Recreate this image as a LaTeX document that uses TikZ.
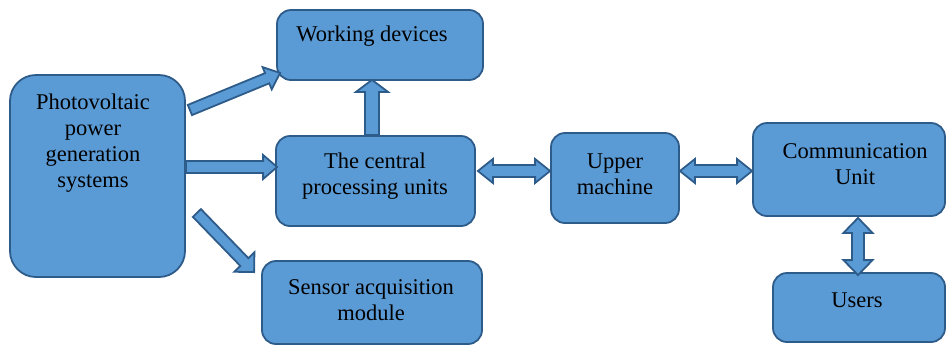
\documentclass[tikz,border=0pt]{standalone}
\usepackage{fontspec}
\setmainfont{Liberation Serif}
\usetikzlibrary{calc}
\definecolor{boxfill}{HTML}{5B9BD5}
\definecolor{boxline}{HTML}{2E5C8A}
\tikzset{
  box/.style={draw=boxline, fill=boxfill, line width=1.8pt, rounded corners=14pt, inner sep=0pt},
  lbl/.style={align=center, font=\fontsize{22.5}{26}\selectfont, inner sep=0pt},
  arr/.style={draw=boxline, fill=boxfill, line width=1.8pt, line join=miter}
}
\newcommand{\blockarrow}[5]{%
  \coordinate (bA) at (#1); \coordinate (bB) at (#2);
  \coordinate (bH) at ($(bB)!#5!(bA)$);
  \draw[arr] ($(bA)!#3!90:(bB)$) -- ($(bH)!#3!-90:(bA)$) -- ($(bH)!#4!-90:(bA)$) -- (bB)
    -- ($(bH)!#4!90:(bA)$) -- ($(bH)!#3!90:(bA)$) -- ($(bA)!#3!-90:(bB)$) -- cycle;}
\newcommand{\dblarrow}[5]{%
  \coordinate (bA) at (#1); \coordinate (bB) at (#2);
  \coordinate (bH1) at ($(bA)!#5!(bB)$); \coordinate (bH2) at ($(bB)!#5!(bA)$);
  \draw[arr] (bA) -- ($(bH1)!#4!90:(bB)$) -- ($(bH1)!#3!90:(bB)$) -- ($(bH2)!#3!-90:(bA)$)
    -- ($(bH2)!#4!-90:(bA)$) -- (bB) -- ($(bH2)!#4!90:(bA)$) -- ($(bH2)!#3!90:(bA)$)
    -- ($(bH1)!#3!-90:(bB)$) -- ($(bH1)!#4!-90:(bB)$) -- cycle;}
\begin{document}
\begin{tikzpicture}[x=1pt, y=-1pt]
\useasboundingbox (0,0) rectangle (947,346);
% boxes
\node[box, rounded corners=26pt, minimum width=175pt, minimum height=202pt] (pv) at (97.5,176) {};
\node[box, minimum width=206pt, minimum height=70pt] (wd) at (380,45) {};
\node[box, minimum width=199pt, minimum height=90pt] (cpu) at (375.5,181) {};
\node[box, minimum width=128pt, minimum height=90pt] (um) at (615,178) {};
\node[box, minimum width=192pt, minimum height=93pt] (cu) at (849,169.5) {};
\node[box, minimum width=220pt, minimum height=83pt] (sa) at (372,302.5) {};
\node[box, minimum width=172pt, minimum height=69pt] (us) at (859,307.5) {};
% labels
\node[lbl] (pvt) at (93,143) {Photovoltaic\\power\\generation\\systems};
\node[lbl] (wdt) at (372,36) {Working devices};
\node[lbl] (cput) at (375,176) {The central\\processing units};
\node[lbl] (umt) at (615,174) {Upper\\machine};
\node[lbl] (cut) at (855,164) {Communication\\Unit};
\node[lbl] (sat) at (371,300) {Sensor acquisition\\module};
\node[lbl] (ust) at (857,300) {Users};
% arrows
\coordinate (a1s) at ($(pv.east)+(4,-66)$);
\coordinate (a1e) at ($(wd.south west)+(4,-8)$);
\blockarrow{a1s}{a1e}{5.5pt}{12pt}{14pt}
\coordinate (a2s) at ($(pv.east)+(0,-9)$);
\coordinate (a2e) at ($(cpu.west)+(2,-14)$);
\blockarrow{a2s}{a2e}{6pt}{12pt}{14pt}
\coordinate (a3s) at ($(pv.east)+(11,37)$);
\coordinate (a3e) at ($(sa.north west)+(-7,12)$);
\blockarrow{a3s}{a3e}{5.6pt}{14pt}{14pt}
\coordinate (a7s) at ($(cpu.north)+(-3.5,0)$);
\coordinate (a7e) at ($(wd.south)+(-8,-1)$);
\blockarrow{a7s}{a7e}{7pt}{16pt}{12pt}
\coordinate (a4s) at ($(cpu.east)+(2,-10)$);
\coordinate (a4e) at ($(um.west)+(0,-7)$);
\dblarrow{a4s}{a4e}{6pt}{12pt}{15pt}
\coordinate (a5s) at ($(um.east)+(0,-7)$);
\coordinate (a5e) at ($(cu.west)+(0,1.5)$);
\dblarrow{a5s}{a5e}{6pt}{12pt}{15pt}
\coordinate (a6s) at ($(cu.south)+(9,1)$);
\coordinate (a6e) at ($(us.north)+(-1,3)$);
\dblarrow{a6s}{a6e}{6pt}{14.5pt}{15pt}
\end{tikzpicture}
\end{document}
